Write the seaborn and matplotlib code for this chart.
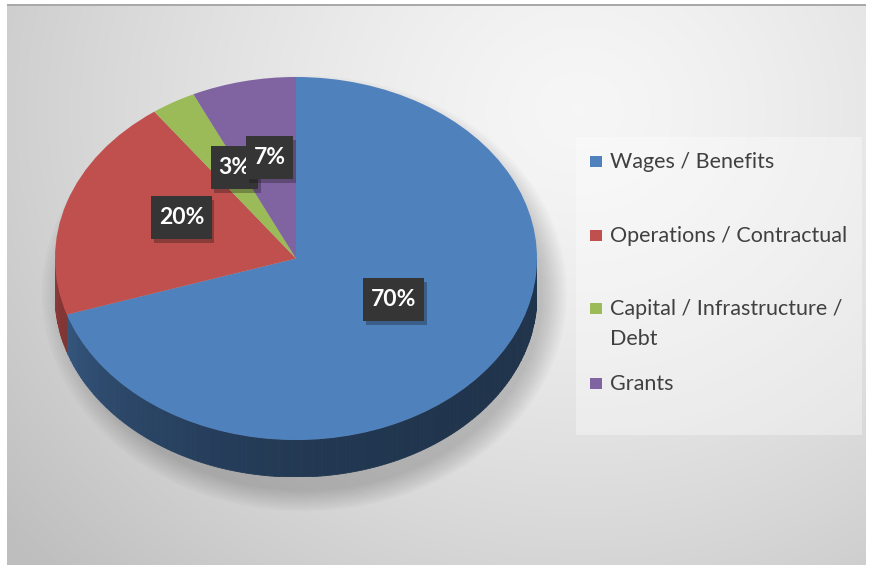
import textwrap
import numpy as np
import matplotlib
matplotlib.use("Agg")
import matplotlib.pyplot as plt
import matplotlib.patheffects as pe
from matplotlib.path import Path
from matplotlib.patches import Polygon, Rectangle, Ellipse
import seaborn as sns

# ---- data ----
categories = ["Wages / Benefits", "Operations / Contractual",
              "Capital / Infrastructure / Debt", "Grants"]
shares = [70, 20, 3, 7]
slice_colors = ["#4f81bd", "#c0504d", "#9bbb59", "#8064a2"]

sns.set_theme(style="white")
plt.rcParams["font.family"] = ["Lato", "DejaVu Sans"]
palette = sns.color_palette(slice_colors)

W, H = 871, 565
fig = plt.figure(figsize=(W / 100, H / 100), dpi=100)
fig.patch.set_facecolor("white")


def fx(px):
    return px / W


def fy(py):
    return 1 - py / H


# ---- background gradient ----
bg = fig.add_axes([fx(7), 0, fx(866) - fx(7), fy(5)])
bg.set_axis_off()
xs = np.linspace(7, 866, 430)
ys = np.linspace(5, 565, 280)
X, Y = np.meshgrid(xs, ys)
d = np.hypot(X - 580, (Y - 110) / 0.9)
v = np.clip(0.965 - 0.17 * np.clip(d / 620, 0, 1.2) ** 1.4, 0, 1)
bg.imshow(np.dstack([v, v, v]), extent=[7, 866, 565, 5], aspect="auto",
          interpolation="bilinear")
bg.set_xlim(7, 866)
bg.set_ylim(565, 5)
fig.add_artist(Rectangle((fx(7), fy(6)), fx(866) - fx(7), 2 / H,
                         transform=fig.transFigure, fc="#a9a9a9", ec="none"))

# ---- pie axes (tilted: ellipse) ----
cx, cy = 296, 258.5
a, b = 241, 181.5
depth_px = 37
depth = depth_px / b
ax = fig.add_axes([fx(cx - a), fy(cy + b + depth_px), 2 * a / W,
                   (2 * b + depth_px) / H])
ax.set_axis_off()
ax.patch.set_alpha(0)
wedges, _ = ax.pie(shares, colors=palette, startangle=90, counterclock=False,
                   radius=1, wedgeprops=dict(linewidth=0, zorder=3))
ax.set_aspect("auto")
ax.set_xlim(-1, 1)
ax.set_ylim(-1 - depth, 1)

# soft shadow (down / right)
for k in range(10):
    s = 0.99 + 0.011 * k
    ax.add_patch(Ellipse((0.035, -depth / 2 - 0.09), 2 * s, (2 + depth) * s,
                         fc="black", alpha=0.02, ec="none", zorder=1,
                         clip_on=False))


def shade(t):
    s = (-t) / 180.0
    return 0.40 + 0.36 * s ** 3


for w, col in zip(wedges, palette):
    t1, t2 = w.theta1, w.theta2
    for lo, hi in [(-540, -360), (-180, 0), (180, 360)]:
        a0, a1 = max(t1, lo), min(t2, hi)
        if a1 <= a0:
            continue
        n = max(2, int(a1 - a0))
        edges = np.linspace(a0, a1, n + 1)
        for e0, e1 in zip(edges[:-1], edges[1:]):
            tt = np.radians(np.linspace(e0, e1, 4))
            top = np.column_stack([np.cos(tt), np.sin(tt)])
            bot = top[::-1] - np.array([0, depth])
            tm = ((e0 + e1) / 2 + 180) % 360 - 180
            c = np.clip(np.array(col) * shade(tm), 0, 1)
            ax.add_patch(Polygon(np.vstack([top, bot]), closed=True, fc=c,
                                 ec=c, lw=0.6, zorder=2))


# ---- percentage labels ----
def label_box(x0, y0, width, height, mutation_size, padx=0.33, pady=0.48):
    px, py = padx * mutation_size, pady * mutation_size
    x0, y0 = x0 - px, y0 - py
    x1, y1 = x0 + width + 2 * px, y0 + height + 2 * py
    return Path([(x0, y0), (x1, y0), (x1, y1), (x0, y1), (x0, y0)],
                closed=True)


label_r = 0.5
label_lift = 0.07
for i, (w, val) in enumerate(zip(wedges, shares)):
    mid = np.radians((w.theta1 + w.theta2) / 2)
    x = label_r * np.cos(mid)
    y = label_r * np.sin(mid) + label_lift
    t = ax.text(x, y, f"{val}%", color="white", fontsize=16.5,
                fontweight="bold", ha="center", va="center", zorder=6 + i,
                bbox=dict(boxstyle=label_box, fc="#353535", ec="none"))
    t.get_bbox_patch().set_path_effects(
        [pe.SimplePatchShadow(offset=(2, -3), alpha=0.3), pe.Normal()])

# ---- legend ----
fig.add_artist(Rectangle((fx(576), fy(435)), fx(862) - fx(576),
                         fy(137) - fy(435), transform=fig.transFigure,
                         fc="white", alpha=0.35, ec="none"))
baselines = [168, 242, 315, 390]
line_gap = 30
for cat, col, base in zip(categories, palette, baselines):
    fig.add_artist(Rectangle((fx(590), fy(base - 1)), 12 / W, 11 / H,
                             transform=fig.transFigure, fc=col, ec="none"))
    for j, line in enumerate(textwrap.wrap(cat, 26)):
        fig.text(fx(610), fy(base + j * line_gap), line, fontsize=15.5,
                 color="#404040", va="baseline", ha="left")

fig.savefig("out.png", dpi=100)
